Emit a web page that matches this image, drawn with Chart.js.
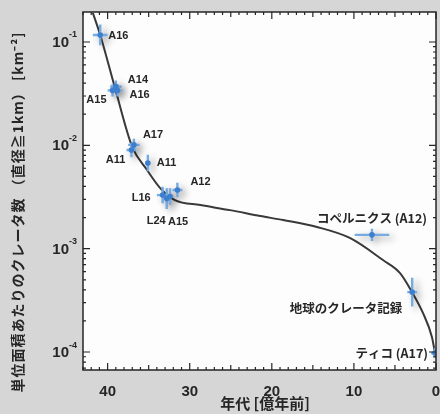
<!DOCTYPE html>
<html>
<head>
<meta charset="utf-8">
<script src="https://cdn.jsdelivr.net/npm/chart.js@4.4.1/dist/chart.umd.min.js"></script>
<style>
  html, body { margin: 0; padding: 0; background: #d6d6d6; }
</style>
</head>
<body>
<canvas id="chart" width="440" height="414"></canvas>
<script>
// chronology curve (age in 億年, craters >= 1 km per km^2)
const curveAge = [41.8, 40.9, 39.1, 37.0, 35.2, 33.6, 31.8, 28.7, 25.1, 21.4, 18.6, 14.5, 10.5, 6.46, 4.38, 2.92, 1.58, 0.49, 0.12];
const curveN = [0.191, 0.117, 0.0359, 0.00964, 0.00577, 0.00386, 0.00295, 0.00264, 0.00236, 0.00207, 0.00189, 0.00162, 0.00127, 0.000776, 0.000581, 0.00038, 0.000238, 0.000139, 0.0000977];

// dated landing sites / craters
const siteLabels = ['A16', 'A14', 'A15', 'A16', 'A17', 'A11', 'A11', 'L16', 'L24', 'A15', 'A12', 'コペルニクス (A12)', '地球のクレータ記録', 'ティコ (A17)'];
const siteAge = [40.9, 39.0, 39.4, 38.8, 36.8, 37.1, 35.1, 33.3, 32.8, 32.4, 31.5, 7.8, 2.9, 0.12];
const siteN = [0.117, 0.037, 0.034, 0.034, 0.0101, 0.0090, 0.00675, 0.0033, 0.00305, 0.0032, 0.0037, 0.00136, 0.00038, 0.000098];
const siteAgeErr = [0.9, 0.7, 0.6, 0.6, 0.7, 0.6, 0.3, 0.7, 0.4, 0.4, 0.6, 2.1, 0.6, 0.5];
const siteLogErr = [0.1, 0.06, 0.06, 0.06, 0.06, 0.07, 0.08, 0.08, 0.1, 0.08, 0.07, 0.06, 0.14, 0.05];

// axis ticks
const xTickValues = [0, 10, 20, 30, 40];
const yTickValues = [1e-1, 1e-2, 1e-3, 1e-4];
const yTickExp = ['-1', '-2', '-3', '-4'];
const xTitle = '年代 [億年前]';
const yTitle = '単位面積あたりのクレータ数 （直径≧1km） [km⁻²]';

// label placement relative to each site marker: dx, dy, align
const labelPlace = [
  [8, 1, 'left'], [12, -7, 'left'], [-6, 10, 'right'], [12, 5, 'left'],
  [9, -10, 'left'], [-6, 10, 'right'], [9, 0, 'left'], [-12, 3, 'right'],
  [-1, 22, 'right'], [-2, 26, 'left'], [13, -8, 'left'], [0, -17, 'center'],
  [-10, 16, 'right'], [-7, 0, 'right']
];

const INK = '#262626';

const framePlugin = {
  id: 'frame',
  beforeDraw(chart) {
    const { ctx, chartArea: a } = chart;
    ctx.save();
    ctx.fillStyle = '#d6d6d6';
    ctx.fillRect(0, 0, chart.width, chart.height);
    ctx.fillStyle = '#fdfdfd';
    ctx.fillRect(a.left, a.top, a.right - a.left, a.bottom - a.top);
    ctx.restore();
  },
  afterDatasetDraw(chart, args) {
    if (args.index !== 1) return;
    // error crosses on top of the curve
    const { ctx } = chart;
    const xs = chart.scales.x, ys = chart.scales.y;
    ctx.save();
    ctx.beginPath();
    ctx.rect(chart.chartArea.left, chart.chartArea.top, chart.chartArea.right - chart.chartArea.left, chart.chartArea.bottom - chart.chartArea.top);
    ctx.clip();
    ctx.lineWidth = 2.4;
    ctx.lineCap = 'butt';
    ctx.strokeStyle = '#76abe2';
    ctx.shadowColor = 'rgba(0,0,0,0.4)';
    ctx.shadowBlur = 7;
    ctx.shadowOffsetX = 4;
    ctx.shadowOffsetY = 3;
    siteAge.forEach((t, i) => {
      const n = siteN[i];
      const px = xs.getPixelForValue(t), py = ys.getPixelForValue(n);
      const x1 = xs.getPixelForValue(t + siteAgeErr[i]);
      const x2 = xs.getPixelForValue(t - siteAgeErr[i]);
      const y1 = ys.getPixelForValue(n * Math.pow(10, siteLogErr[i]));
      const y2 = ys.getPixelForValue(n / Math.pow(10, siteLogErr[i]));
      ctx.beginPath();
      ctx.moveTo(x1, py); ctx.lineTo(x2, py);
      ctx.moveTo(px, y1); ctx.lineTo(px, y2);
      ctx.stroke();
    });
    ctx.restore();
  },
  afterDraw(chart) {
    const { ctx, chartArea: a } = chart;
    const xs = chart.scales.x, ys = chart.scales.y;
    ctx.save();
    ctx.strokeStyle = INK;
    ctx.lineWidth = 1.5;
    ctx.strokeRect(a.left, a.top, a.right - a.left, a.bottom - a.top);

    // inward ticks on all four sides
    ctx.lineWidth = 1.2;
    ctx.beginPath();
    for (let v = 0; v <= 43; v++) {
      const px = xs.getPixelForValue(v);
      const len = v % 10 === 0 ? 7 : (v % 5 === 0 ? 5 : 3);
      ctx.moveTo(px, a.bottom); ctx.lineTo(px, a.bottom - len);
      ctx.moveTo(px, a.top); ctx.lineTo(px, a.top + len);
    }
    for (let e = -5; e <= 0; e++) {
      for (let m = 1; m <= 9; m++) {
        const v = m * Math.pow(10, e);
        if (v < ys.min || v > ys.max) continue;
        const py = ys.getPixelForValue(v);
        const len = m === 1 ? 7 : 3;
        ctx.moveTo(a.left, py); ctx.lineTo(a.left + len, py);
        ctx.moveTo(a.right, py); ctx.lineTo(a.right - len, py);
      }
    }
    ctx.stroke();

    // y tick labels: 10 with superscript exponent
    ctx.fillStyle = INK;
    ctx.textBaseline = 'middle';
    yTickValues.forEach((v, i) => {
      const py = ys.getPixelForValue(v);
      ctx.font = 'bold 9px "Liberation Sans", sans-serif';
      const ew = ctx.measureText(yTickExp[i]).width;
      ctx.textAlign = 'left';
      const right = a.left - 6;
      ctx.fillText(yTickExp[i], right - ew, py - 7);
      ctx.font = 'bold 15px "Liberation Sans", sans-serif';
      ctx.textAlign = 'right';
      ctx.fillText('10', right - ew, py + 1);
    });

    // axis titles
    ctx.font = 'bold 15px "Noto Sans CJK JP", sans-serif';
    ctx.textAlign = 'center';
    ctx.fillText(xTitle, 265, 403);
    ctx.save();
    ctx.translate(18, 212);
    ctx.rotate(-Math.PI / 2);
    ctx.font = 'bold 14px "Noto Sans CJK JP", sans-serif';
    ctx.letterSpacing = '1px';
    ctx.fillText(yTitle, 0, 0);
    ctx.restore();

    // site labels
    siteLabels.forEach((s, i) => {
      const px = xs.getPixelForValue(siteAge[i]);
      const py = ys.getPixelForValue(siteN[i]);
      const [dx, dy, al] = labelPlace[i];
      ctx.font = i >= 11
        ? 'bold 12.5px "Noto Sans CJK JP", sans-serif'
        : 'bold 11px "Liberation Sans", sans-serif';
      ctx.textAlign = al;
      ctx.fillText(s, px + dx, py + dy);
    });
    ctx.restore();
  }
};

new Chart(document.getElementById('chart'), {
  data: {
    datasets: [
      {
        type: 'scatter',
        label: 'sites',
        data: siteAge.map((t, i) => ({ x: t, y: siteN[i] })),
        pointRadius: 2.8,
        pointBackgroundColor: '#3d7fcf',
        pointBorderWidth: 0
      },
      {
        type: 'line',
        label: 'chronology',
        data: curveAge.map((t, i) => ({ x: t, y: curveN[i] })),
        borderColor: '#3a3838',
        borderWidth: 2,
        pointRadius: 0,
        fill: false,
        cubicInterpolationMode: 'monotone'
      }
    ]
  },
  options: {
    responsive: false,
    animation: false,
    devicePixelRatio: 1,
    layout: { padding: { top: 12, right: 4, left: 0, bottom: 0 } },
    plugins: { legend: { display: false }, tooltip: { enabled: false } },
    scales: {
      x: {
        type: 'linear',
        reverse: true,
        min: 0,
        max: 43,
        grid: { display: false },
        border: { display: false },
        afterBuildTicks: (s) => { s.ticks = xTickValues.map(v => ({ value: v })); },
        afterFit: (s) => { s.height = 44; s.paddingLeft = 0; s.paddingRight = 0; },
        ticks: {
          autoSkip: false,
          maxRotation: 0,
          padding: 5,
          color: INK,
          font: { family: 'Liberation Sans', size: 15, weight: 'bold' }
        }
      },
      y: {
        type: 'logarithmic',
        min: 6.7e-5,
        max: 0.195,
        grid: { display: false },
        border: { display: false },
        ticks: { display: false },
        afterFit: (s) => { s.width = 83; s.paddingTop = 0; s.paddingBottom = 0; }
      }
    }
  },
  plugins: [framePlugin]
});
</script>
</body>
</html>
